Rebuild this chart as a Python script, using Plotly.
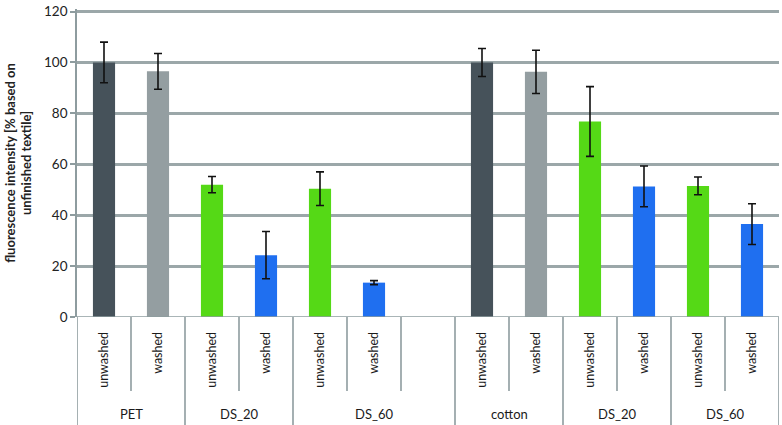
import plotly.graph_objects as go

# ---- data ----
group_labels = ["PET", "DS_20", "DS_60", "cotton", "DS_20", "DS_60"]
conditions = ["unwashed", "washed"]
values = [100, 96.5, 52, 24.3, 50.4, 13.5, 100, 96.3, 76.8, 51.3, 51.5, 36.5]
errors = [8, 7, 3.2, 9.3, 6.6, 0.8, 5.5, 8.5, 13.7, 8, 3.5, 8]
y_ticks = [0, 20, 40, 60, 80, 100, 120]

# groups: number of slots per group (DS_60 of PET has an extra empty slot)
group_slots = [2, 2, 3, 2, 2, 2]

colors_raw = {"unwashed": "#46525a", "washed": "#949ea1"}
colors_ds = {"unwashed": "#55d916", "washed": "#1f6ff0"}

# build slot positions
xs, cols, inner = [], [], []
group_ranges = []
slot = 0
for g, n in zip(group_labels, group_slots):
    start = slot
    for k in range(n):
        if k < len(conditions):
            c = conditions[k]
            xs.append(slot)
            inner.append((slot, c))
            cols.append(colors_ds[c] if g.startswith("DS") else colors_raw[c])
        slot += 1
    group_ranges.append((start, slot))
n_slots = slot

GRID = "#9ba7a9"
AXIS = "#8e9c9f"

fig = go.Figure()
fig.add_trace(go.Bar(
    x=xs, y=values, width=0.41,
    marker=dict(color=cols, line=dict(width=0)),
    error_y=dict(type="data", array=errors, color="#111111", thickness=1.6, width=4),
    showlegend=False,
))

shapes = []
annotations = []
group_edges = set()
for s, e in group_ranges:
    group_edges.add(s)
    group_edges.add(e)
# paper-fraction lengths for separators (plot height 312 px)
short_len = -75 / 312
long_len = -110 / 312
for b in range(n_slots + 1):
    long = b in group_edges
    shapes.append(dict(type="line", xref="x", yref="paper",
                       x0=b - 0.5, x1=b - 0.5, y0=0, y1=long_len if long else short_len,
                       line=dict(color=AXIS, width=1.6)))
# baseline
shapes.append(dict(type="line", xref="paper", yref="y", x0=0, x1=1, y0=0, y1=0,
                   line=dict(color=AXIS, width=1.6)))

for pos, c in inner:
    annotations.append(dict(x=pos, y=-13 / 312, xref="x", yref="paper", text=c,
                            textangle=-90, showarrow=False, xanchor="center", yanchor="top",
                            font=dict(size=12.5, color="#1a1a1a")))
for (s, e), g in zip(group_ranges, group_labels):
    annotations.append(dict(x=(s + e - 1) / 2, y=-98 / 312, xref="x", yref="paper", text=g,
                            showarrow=False, xanchor="center", yanchor="middle",
                            font=dict(size=13, color="#1a1a1a")))

fig.update_layout(
    width=782, height=425,
    margin=dict(l=77, r=3, t=5, b=108),
    paper_bgcolor="white", plot_bgcolor="white",
    font=dict(family="Lato, Open Sans, sans-serif", color="#222222"),
    shapes=shapes, annotations=annotations,
    xaxis=dict(range=[-0.5, n_slots - 0.5], showticklabels=False, showgrid=False,
               zeroline=False, showline=False, ticks=""),
    yaxis=dict(range=[0, 121], tickvals=y_ticks, showgrid=True, gridcolor=GRID,
               gridwidth=2.5, zeroline=False, showline=True, linecolor=AXIS,
               linewidth=1.6, ticks="outside", ticklen=5, tickcolor=AXIS,
               tickwidth=1.6, tickfont=dict(size=13.5, color="#222222"),
               ticklabeloverflow="allow",
               title=dict(text="<b>fluorescence intensity [% based on<br>unfinished textile]</b>",
                          font=dict(size=13, color="#222222"), standoff=9)),
)

fig.write_html("out.html", config={"displayModeBar": False},
               post_script="document.body.style.margin='0';document.body.style.overflow='hidden';")
